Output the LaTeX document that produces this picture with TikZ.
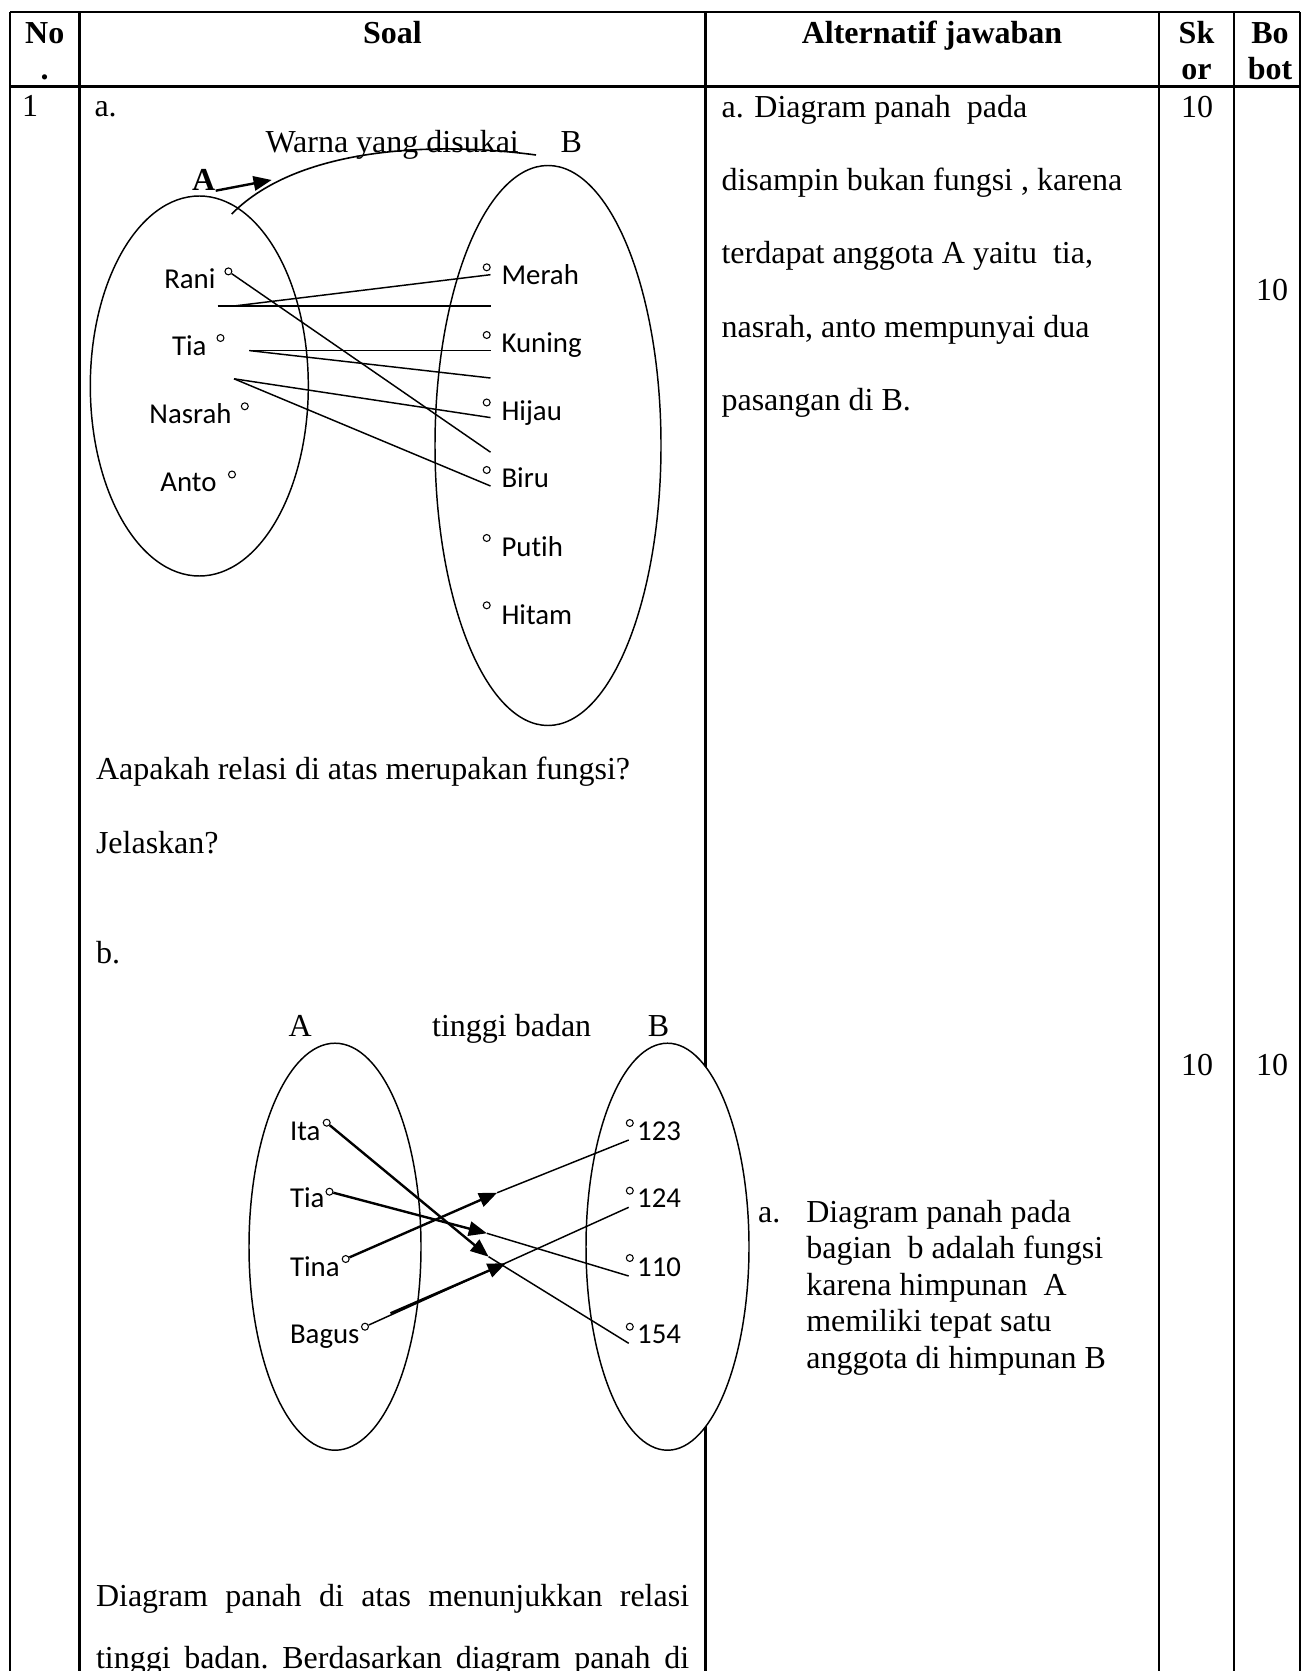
\documentclass[tikz,border=0pt]{standalone}
\usepackage{fontspec}
\setmainfont{Liberation Serif}
\newfontfamily\calibri[Ligatures=NoCommon]{Carlito}
\usetikzlibrary{arrows.meta,calc}

\newcommand{\barispenuh}[1]{\hbox to 222.4pt{\frenchspacing\spaceskip=0.25em plus 1fil\relax #1}}

\tikzset{
  garis/.style={line width=0.95pt},
  himpunan/.style={line width=0.55pt},
  hub/.style={line width=0.55pt},
  panah/.style={line width=0.9pt, -{Triangle[length=6.8pt,width=5.4pt]}},
  teks/.style={inner sep=0pt, anchor=base west, font=\fontsize{12}{14}\selectfont},
  judul/.style={inner sep=0pt, anchor=base, font=\fontsize{12}{14}\selectfont\bfseries},
  anggota/.style={inner sep=0pt, font=\calibri\fontsize{10.8}{13}\selectfont},
  titik/.style={circle, draw, line width=0.4pt, minimum size=2.6pt, inner sep=0pt},
}

\begin{document}
\begin{tikzpicture}[x=0.375pt, y=-0.375pt]
\useasboundingbox (0,0) rectangle (1303,1671);

% tabel
\draw[garis] (10,12) -- (1300,12);
\draw[garis] (10,86.5) -- (1300,86.5);
\foreach \x in {10,79.5,705.5,1159,1234,1300}
  \draw[garis] (\x,12) -- (\x,1671);

% baris judul
\node[judul] at (44.75,44) {No};
\node[judul] at (44.75,80) {.};
\node[judul] at (392.5,44) {Soal};
\node[judul] at (932,44) {Alternatif jawaban};
\node[judul] at (1196.5,44) {Sk};
\node[judul] at (1196.5,80) {or};
\node[judul] at (1270,44) {Bo};
\node[judul] at (1270,80) {bot};

\node[teks] at (21.5,117) {1};
\node[teks] at (94,117) {a.};

% diagram a
\node[teks] (warna) at (265,153) {Warna yang disukai};
\node[teks] (hB) at (560,153) {B};
\node[teks, font=\fontsize{12}{14}\selectfont\bfseries] (hA) at (191.5,190.7) {A};
\coordinate (ujungA) at (271.7,180);
\draw[panah] (hA.base east) -- (ujungA);
\draw[line width=0.6pt] (231.7,214) .. controls (300,145) and (440,142) .. (536,155);

\draw[himpunan] (199.3,386) ellipse [x radius=109, y radius=190];
\draw[himpunan] (548,445.5) ellipse [x radius=113, y radius=280];

\node[titik] (rani) at (228.4,271.4) {};
\node[titik] (tia) at (220.5,338) {};
\node[titik] (nasrah) at (244.8,406.3) {};
\node[titik] (anto) at (232,474.5) {};
\node[anggota, anchor=base east] at (216,289) {Rani};
\node[anggota, anchor=base east] at (207,355.5) {Tia};
\node[anggota, anchor=base east] at (232,423.7) {Nasrah};
\node[anggota, anchor=base east] at (217,491.8) {Anto};

\node[titik] (merah) at (486.7,267.3) {};
\node[titik] (kuning) at (486.7,335) {};
\node[titik] (hijau) at (486.7,402.5) {};
\node[titik] (biru) at (486.7,470) {};
\node[titik] (putih) at (486.7,538) {};
\node[titik] (hitam) at (486.7,605.3) {};
\node[anggota, anchor=base west] at (501,285) {Merah};
\node[anggota, anchor=base west] at (501,353) {Kuning};
\node[anggota, anchor=base west] at (501,421) {Hijau};
\node[anggota, anchor=base west] at (501,488) {Biru};
\node[anggota, anchor=base west] at (501,556) {Putih};
\node[anggota, anchor=base west] at (501,624) {Hitam};

\coordinate (r1) at (490.5,452.2);
\coordinate (g1) at (217.7,306);
\coordinate (g2) at (490.5,306);
\coordinate (g3) at (234,306);
\coordinate (m1) at (490.5,274.7);
\coordinate (t1) at (249.4,350.6);
\coordinate (t2) at (490.5,350.6);
\coordinate (t3) at (490.5,378);
\coordinate (n1) at (234,378.8);
\coordinate (n2) at (490.5,417.6);
\coordinate (n3) at (490.5,486);
\draw[hub] (rani) -- (r1);
\draw[hub] (g1) -- (g2);
\draw[hub] (g3) -- (m1);
\draw[hub] (t1) -- (t2);
\draw[hub] (t1) -- (t3);
\draw[hub] (n1) -- (n2);
\draw[hub] (n1) -- (n3);

\node[teks] at (95.5,779) {Aapakah relasi di atas merupakan fungsi?};
\node[teks] at (95.5,853) {Jelaskan?};
\node[teks] at (95.5,963.3) {b.};

% diagram b
\node[teks] at (288,1036.7) {A};
\node[teks] at (431.6,1036.7) {tinggi badan};
\node[teks] at (647.4,1036.7) {B};

\draw[himpunan] (335,1246.7) ellipse [x radius=86, y radius=203.5];
\draw[himpunan, fill=white] (667.5,1246.7) ellipse [x radius=81.5, y radius=203.5];

\node[anggota, anchor=base west] at (289.5,1140) {Ita};
\node[anggota, anchor=base west] at (289.5,1207.5) {Tia};
\node[anggota, anchor=base west] at (289.5,1276) {Tina};
\node[anggota, anchor=base west] at (289.5,1343.5) {Bagus};
\node[titik] (ita) at (326.7,1122.7) {};
\node[titik] (tiab) at (329.5,1191.7) {};
\node[titik] (tina) at (345.7,1259) {};
\node[titik] (bagus) at (365,1326.7) {};

\node[titik] at (629.8,1123) {};
\node[titik] at (629.8,1190.7) {};
\node[titik] at (629.8,1258) {};
\node[titik] at (629.8,1326.7) {};
\node[anggota, anchor=base west, inner sep=3pt] (n123) at (628.7,1140) {123};
\node[anggota, anchor=base west, inner sep=3pt] (n124) at (628.7,1207.3) {124};
\node[anggota, anchor=base west, inner sep=3pt] (n110) at (628.7,1276) {110};
\node[anggota, anchor=base west, inner sep=3pt] (n154) at (628.7,1343.3) {154};

\coordinate (pIta) at (488.6,1256.7);
\coordinate (pTia) at (486.9,1233.3);
\coordinate (pTina) at (497.2,1192.7);
\coordinate (pBagus) at (505.8,1263.3);
\coordinate (sBagus) at (390.5,1313.3);
\draw[hub] (pIta) -- (n154.base west);
\draw[panah] (ita) -- (pIta);
\draw[hub] (pTia) -- (n110.base west);
\draw[panah] (tiab) -- (pTia);
\draw[hub] (pTina) -- (n123.base west);
\draw[panah] (tina) -- (pTina);
\draw[hub] (bagus) -- (n124.base west);
\draw[panah] (sBagus) -- (pBagus);

\node[teks] at (95.5,1606.7) {\barispenuh{Diagram panah di atas menunjukkan relasi}};
\node[teks] at (95.5,1668) {\barispenuh{tinggi badan. Berdasarkan diagram panah di}};

% alternatif jawaban
\node[teks] at (721,117.3) {a. Diagram panah\ \ pada};
\node[teks] at (721,190.6) {disampin bukan fungsi , karena};
\node[teks] at (721,264) {terdapat anggota A yaitu\ \ tia,};
\node[teks] at (721,337.3) {nasrah, anto mempunyai dua};
\node[teks] at (721,410.6) {pasangan di B.};

\node[teks] at (757.7,1222) {a.};
\node[teks] at (805.8,1222) {Diagram panah pada};
\node[teks] at (805.8,1258.6) {bagian\ \ b adalah fungsi};
\node[teks] at (805.8,1295.2) {karena himpunan\ \ A};
\node[teks] at (805.8,1331.8) {memiliki tepat satu};
\node[teks] at (805.8,1368.4) {anggota di himpunan B};

% skor dan bobot
\node[teks, anchor=base] at (1197,117.3) {10};
\node[teks, anchor=base] at (1272,300.5) {10};
\node[teks, anchor=base] at (1197,1075.5) {10};
\node[teks, anchor=base] at (1272,1075.5) {10};
\end{tikzpicture}
\end{document}
